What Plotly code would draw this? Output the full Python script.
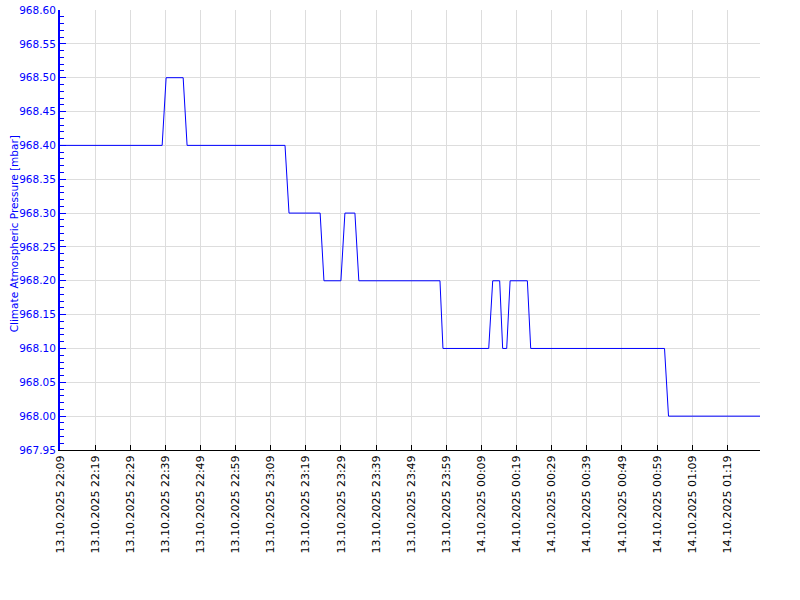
import plotly.graph_objects as go

times = [
    "2025-10-13 22:09:00", "2025-10-13 22:38:05", "2025-10-13 22:39:13",
    "2025-10-13 22:44:04", "2025-10-13 22:45:11", "2025-10-13 23:13:04",
    "2025-10-13 23:14:12", "2025-10-13 23:23:04", "2025-10-13 23:24:09",
    "2025-10-13 23:28:59", "2025-10-13 23:30:07", "2025-10-13 23:32:58",
    "2025-10-13 23:34:05", "2025-10-13 23:57:11", "2025-10-13 23:58:02",
    "2025-10-14 00:11:04", "2025-10-14 00:12:12", "2025-10-14 00:14:11",
    "2025-10-14 00:15:02", "2025-10-14 00:16:11", "2025-10-14 00:17:09",
    "2025-10-14 00:22:04", "2025-10-14 00:23:01", "2025-10-14 01:01:07",
    "2025-10-14 01:02:15", "2025-10-14 01:28:18",
]
pressure = [
    968.40, 968.40, 968.50,
    968.50, 968.40, 968.40,
    968.30, 968.30, 968.20,
    968.20, 968.30, 968.30,
    968.20, 968.20, 968.10,
    968.10, 968.20, 968.20,
    968.10, 968.10, 968.20,
    968.20, 968.10, 968.10,
    968.00, 968.00,
]
y_title = "Climate Atmospheric Pressure [mbar]"

fig = go.Figure()
fig.add_trace(go.Scatter(x=times, y=pressure, mode="lines",
                         line=dict(color="#0000ff", width=1), showlegend=False))

fig.update_layout(
    width=800, height=600,
    margin=dict(l=60, r=40, t=10, b=150, autoexpand=False),
    paper_bgcolor="white", plot_bgcolor="white",
    font=dict(family="DejaVu Sans", size=11, color="black"),
    annotations=[dict(text=y_title, xref="paper", yref="paper",
                      x=-0.066, y=0.492, textangle=-90, showarrow=False,
                      xanchor="center", yanchor="middle",
                      font=dict(family="DejaVu Sans", size=10.5, color="#0000ff"))],
)
fig.update_xaxes(
    automargin=False,
    range=["2025-10-13 22:09:00", "2025-10-14 01:28:18"],
    tick0="2025-10-13 22:09:00", dtick=600000,
    tickformat="%d.%m.%Y %H:%M", tickangle=-90,
    ticks="inside", ticklen=5, tickcolor="black",
    showline=True, linecolor="black", linewidth=1,
    showgrid=True, gridcolor="#dddddd", gridwidth=1,
    zeroline=False,
    ticklabeloverflow="allow",
    tickfont=dict(family="DejaVu Sans", size=11, color="black"),
)
fig.update_yaxes(
    automargin=False,
    range=[967.95, 968.60], dtick=0.05, tick0=967.95,
    tickformat=".2f",
    ticks="inside", ticklen=6, tickcolor="#0000ff", tickwidth=1,
    showline=True, linecolor="#0000ff", linewidth=2,
    showgrid=True, gridcolor="#dddddd", gridwidth=1,
    zeroline=False,
    ticklabeloverflow="allow",
    minor=dict(dtick=0.01, ticks="inside", ticklen=4, tickcolor="#0000ff", showgrid=False),
    tickfont=dict(family="DejaVu Sans", size=10.5, color="#0000ff"),
)

fig.write_html("out.html",
               config={"displayModeBar": False},
               post_script="document.body.style.margin='0';document.body.style.overflow='hidden';")
